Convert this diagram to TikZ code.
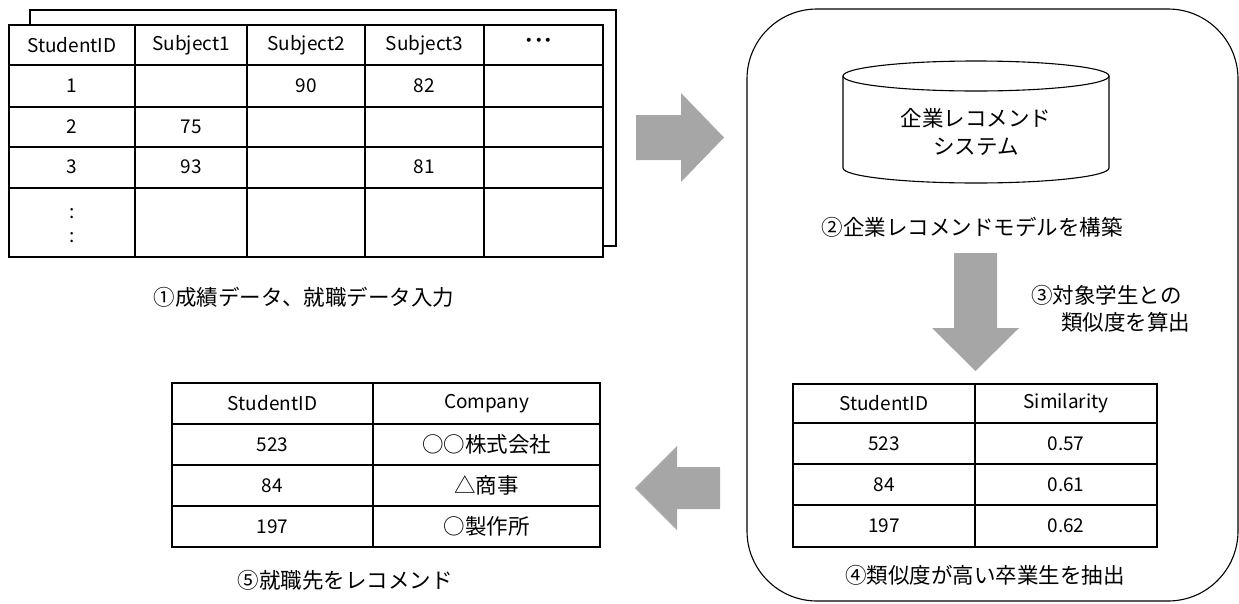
\documentclass[tikz,border=0pt]{standalone}
\usepackage{fontspec}
\setmainfont{Noto Sans CJK JP}
\definecolor{arrowgray}{HTML}{A6A6A6}
\begin{document}
\begin{tikzpicture}[x=1pt,y=-1pt,
  tbl/.style={draw=black,line width=1.5pt},
  thin/.style={draw=black,line width=1.1pt},
  txt/.style={font=\fontsize{19}{23}\selectfont, inner sep=0pt},
  jtxt/.style={font=\fontsize{21.5}{25}\selectfont, inner sep=0pt},
  garrow/.style={fill=arrowgray}]
\useasboundingbox (0,0) rectangle (1239,603);

% ---- top-left input table (with back sheet)
\draw[tbl,fill=white] (30,10) rectangle (616,246);
\draw[tbl,fill=white] (9,25) rectangle (603,257);
\foreach \x in {135,247,365,484} \draw[tbl] (\x,25) -- (\x,257);
\foreach \y in {65,107,147,188} \draw[tbl] (9,\y) -- (603,\y);
\node[txt] (h1) at (72,45) {StudentID};
\node[txt] (h2) at (191,45) {Subject1};
\node[txt] (h3) at (306,45) {Subject2};
\node[txt] (h4) at (424.5,45) {Subject3};
\node[txt,font=\fontsize{19}{23}\selectfont\bfseries] (h5) at (539,43) {･･･};
\node[txt] (r1a) at (72,86) {1};
\node[txt] (r1c) at (306,86) {90};
\node[txt] (r1d) at (424.5,86) {82};
\node[txt] (r2a) at (72,127) {2};
\node[txt] (r2b) at (191,127) {75};
\node[txt] (r3a) at (72,167) {3};
\node[txt] (r3b) at (191,167) {93};
\node[txt] (r3d) at (424.5,167) {81};
\node[txt] (r4a) at (72,214) {:};
\node[txt] (r4b) at (72,238) {:};
\node[jtxt] (cap1) at (304,297) {①成績データ、就職データ入力};

% ---- right arrow
\fill[garrow] (636,115) -- (681,115) -- (681,93) -- (724,137.5) -- (681,182) -- (681,160) -- (636,160) -- cycle;

% ---- system frame
\draw[thin,rounded corners=70pt] (747,9) rectangle (1238,601);

% ---- cylinder
\draw[thin,fill=white] (843,76) -- (843,168) arc[start angle=180,end angle=360,x radius=133pt,y radius=15pt] -- (1109,76);
\draw[thin] (976,76) ellipse [x radius=133pt,y radius=15pt];
\node[jtxt] (sys1) at (976,118) {企業レコメンド};
\node[jtxt] (sys2) at (976,147) {システム};
\node[jtxt] (cap2) at (972,227) {②企業レコメンドモデルを構築};

% ---- down arrow
\fill[garrow] (954,253) -- (997,253) -- (997,328) -- (1019,328) -- (975.5,371) -- (932,328) -- (954,328) -- cycle;
\node[jtxt,anchor=west] (cap3a) at (1031,295) {③対象学生との};
\node[jtxt,anchor=west] (cap3b) at (1061,322) {類似度を算出};

% ---- similarity table
\draw[tbl] (793,384) rectangle (1157,547);
\draw[tbl] (975,384) -- (975,547);
\foreach \y in {423,464,505} \draw[tbl] (793,\y) -- (1157,\y);
\node[txt] (s0a) at (884,403.5) {StudentID};
\node[txt] (s0b) at (1066,403.5) {Similarity};
\node[txt] (s1a) at (884,443.5) {523};
\node[txt] (s1b) at (1066,443.5) {0.57};
\node[txt] (s2a) at (884,484.5) {84};
\node[txt] (s2b) at (1066,484.5) {0.61};
\node[txt] (s3a) at (884,526) {197};
\node[txt] (s3b) at (1066,526) {0.62};
\node[jtxt] (cap4) at (985,575) {④類似度が高い卒業生を抽出};

% ---- left arrow
\fill[garrow] (720,467) -- (677,467) -- (677,446) -- (635,488) -- (677,530) -- (677,509) -- (720,509) -- cycle;

% ---- company table
\draw[tbl] (172,383) rectangle (600,547);
\draw[tbl] (373,383) -- (373,547);
\foreach \y in {424,465,506} \draw[tbl] (172,\y) -- (600,\y);
\node[txt] (c0a) at (272.5,403.5) {StudentID};
\node[txt] (c0b) at (486.5,403.5) {Company};
\node[txt] (c1a) at (272.5,444.5) {523};
\node[jtxt] (c1b) at (486.5,444.5) {○○株式会社};
\node[txt] (c2a) at (272.5,485.5) {84};
\node[jtxt] (c2b) at (486.5,485.5) {△商事};
\node[txt] (c3a) at (272.5,526.5) {197};
\node[jtxt] (c3b) at (486.5,526.5) {○製作所};
\node[jtxt] (cap5) at (345,580) {⑤就職先をレコメンド};
\end{tikzpicture}
\end{document}
